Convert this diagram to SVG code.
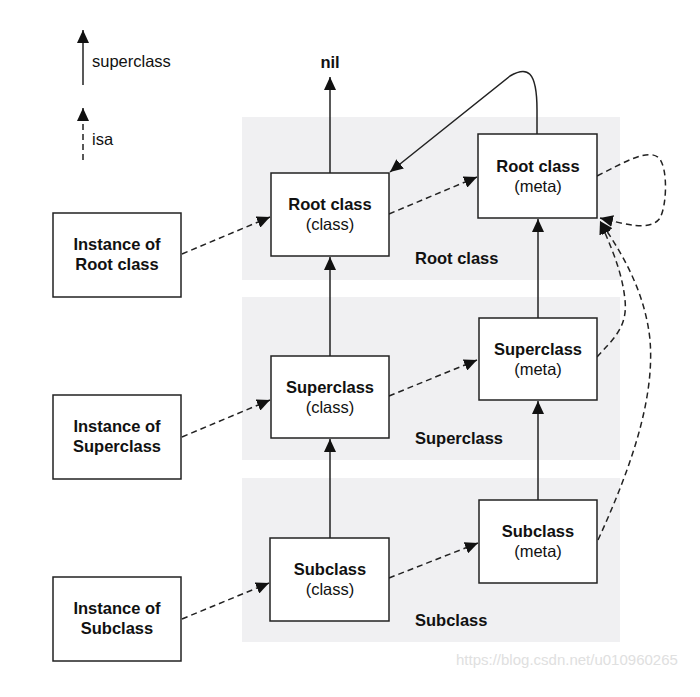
<svg xmlns="http://www.w3.org/2000/svg" width="700" height="697" viewBox="0 0 700 697">
<defs>
<marker id="ah" markerUnits="userSpaceOnUse" markerWidth="14" markerHeight="12" refX="13" refY="6" orient="auto">
<path d="M0,0 L13,6 L0,12 Z" fill="#111"/>
</marker>
<style>
.band{fill:#f0f0f2}
.box{fill:#fff;stroke:#222;stroke-width:1.5}
.t{font-family:"Liberation Sans",Arial,sans-serif;font-size:16.5px;fill:#111;text-anchor:middle}
.b{font-weight:bold}
.sol{fill:none;stroke:#222;stroke-width:1.5;marker-end:url(#ah)}
.dash{fill:none;stroke:#222;stroke-width:1.5;stroke-dasharray:6,4;marker-end:url(#ah)}
</style>
</defs>
<rect width="700" height="697" fill="#fff"/>
<g id="bands">
<rect class="band" x="242" y="117" width="378" height="163"/>
<rect class="band" x="242" y="297" width="378" height="163"/>
<rect class="band" x="242" y="478" width="378" height="164"/>
<text class="t b" x="415" y="264" style="text-anchor:start">Root class</text>
<text class="t b" x="415" y="444" style="text-anchor:start">Superclass</text>
<text class="t b" x="415" y="626" style="text-anchor:start">Subclass</text>
</g>
<g id="legend">
<line class="sol" x1="83" y1="85" x2="83" y2="30"/>
<text class="t" x="92" y="67" style="text-anchor:start">superclass</text>
<line class="dash" x1="83" y1="160" x2="83" y2="108"/>
<text class="t" x="92" y="145" style="text-anchor:start">isa</text>
</g>
<g id="connectors">
<line class="sol" x1="330" y1="173" x2="330" y2="77"/>
<line class="sol" x1="330" y1="356" x2="330" y2="257"/>
<line class="sol" x1="330" y1="538" x2="330" y2="439"/>
<line class="sol" x1="538" y1="318" x2="538" y2="219"/>
<line class="sol" x1="538" y1="500" x2="538" y2="401"/>
<path class="sol" d="M537,134 L537,110 C537,70 527,66 510,76 L390,172"/>
<line class="dash" x1="182" y1="254" x2="270" y2="217"/>
<line class="dash" x1="182" y1="437" x2="270" y2="400"/>
<line class="dash" x1="182" y1="619" x2="269" y2="583"/>
<line class="dash" x1="389" y1="214" x2="477" y2="177"/>
<line class="dash" x1="389" y1="396" x2="477" y2="360"/>
<line class="dash" x1="389" y1="578" x2="478" y2="543"/>
<path class="dash" d="M597,176 C625,162 648,148 659,158 C668,168 667,205 660,218 C650,232 625,224 600,218"/>
<path class="dash" d="M597,357 C612,340 628,328 625,300 C622,270 610,245 600,221"/>
<path class="dash" d="M598,540 C630,470 655,400 650,340 C645,290 620,250 600,221"/>
</g>
<g id="nil"><text class="t b" x="330" y="68">nil</text></g>
<g id="inst-root">
<rect class="box" x="53" y="213" width="128" height="84"/>
<text class="t b" x="117" y="250">Instance of</text>
<text class="t b" x="117" y="270">Root class</text>
</g>
<g id="inst-super">
<rect class="box" x="53" y="395" width="128" height="84"/>
<text class="t b" x="117" y="432">Instance of</text>
<text class="t b" x="117" y="452">Superclass</text>
</g>
<g id="inst-sub">
<rect class="box" x="53" y="577" width="128" height="84"/>
<text class="t b" x="117" y="614">Instance of</text>
<text class="t b" x="117" y="634">Subclass</text>
</g>
<g id="root-class">
<rect class="box" x="271" y="173" width="118" height="83"/>
<text class="t b" x="330" y="210">Root class</text>
<text class="t" x="330" y="230">(class)</text>
</g>
<g id="super-class">
<rect class="box" x="271" y="356" width="118" height="82"/>
<text class="t b" x="330" y="393">Superclass</text>
<text class="t" x="330" y="413">(class)</text>
</g>
<g id="sub-class">
<rect class="box" x="270" y="538" width="119" height="83"/>
<text class="t b" x="330" y="575">Subclass</text>
<text class="t" x="330" y="595">(class)</text>
</g>
<g id="root-meta">
<rect class="box" x="478" y="134" width="119" height="84"/>
<text class="t b" x="538" y="172">Root class</text>
<text class="t" x="538" y="192">(meta)</text>
</g>
<g id="super-meta">
<rect class="box" x="479" y="318" width="118" height="82"/>
<text class="t b" x="538" y="355">Superclass</text>
<text class="t" x="538" y="375">(meta)</text>
</g>
<g id="sub-meta">
<rect class="box" x="479" y="500" width="118" height="83"/>
<text class="t b" x="538" y="537">Subclass</text>
<text class="t" x="538" y="557">(meta)</text>
</g>
<g id="watermark"><text x="456" y="665" style="font-family:'Liberation Sans',Arial,sans-serif;font-size:15px;fill:#e0e0e0">https://blog.csdn.net/u010960265</text></g>
</svg>
